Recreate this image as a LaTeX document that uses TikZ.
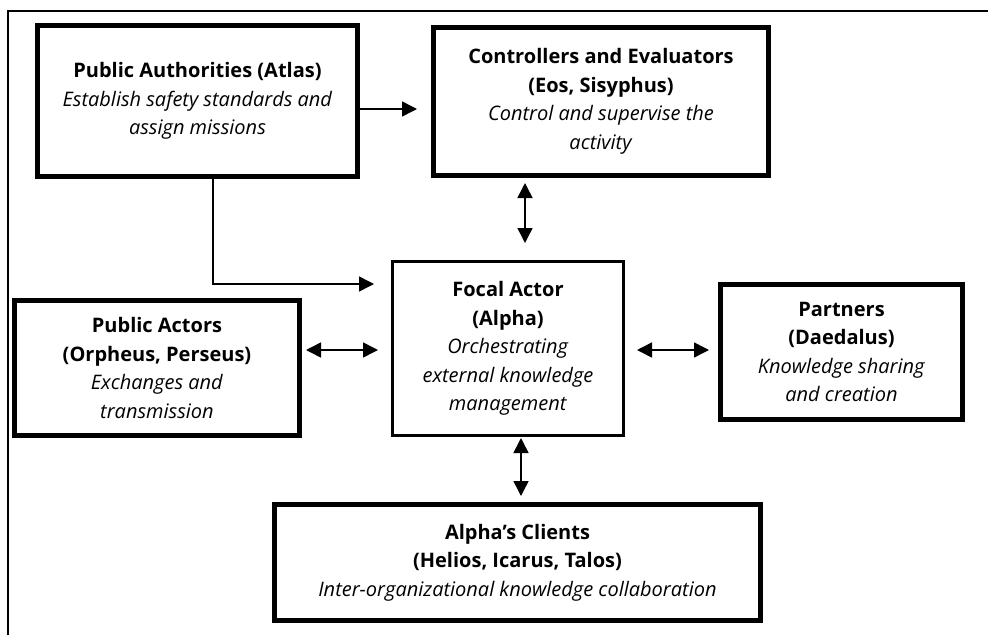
\documentclass[tikz,border=0pt]{standalone}
\usepackage{fontspec}
\setmainfont{Open Sans}
\usetikzlibrary{arrows.meta}

\begin{document}
\begin{tikzpicture}[x=1pt, y=-1pt,
    box/.style={draw, line width=5pt, align=center, inner sep=0pt, font=\fontsize{20}{28.5}\selectfont},
    thinbox/.style={box, line width=3pt},
    arr/.style={line width=1.5pt, -{Triangle[length=15pt, width=15pt]}},
    dbl/.style={line width=1.5pt, {Triangle[length=15pt, width=15pt]}-{Triangle[length=15pt, width=15pt]}}]
    \useasboundingbox (0, 0) rectangle (988, 635);
    \draw [line width=2pt] (8, 635) -- (8, 11) -- (988, 11); % frame
    % actors
    \node [box, minimum width=320pt, minimum height=151pt] (0) at (197.5, 101) {\textbf{Public Authorities (Atlas)}\\ \textit{Establish safety standards and}\\ \textit{assign missions}};
    \node [box, minimum width=335pt, minimum height=148pt] (1) at (601, 101.5) {\textbf{Controllers and Evaluators}\\ \textbf{(Eos, Sisyphus)}\\ \textit{Control and supervise the}\\ \textit{activity}};
    \node [thinbox, minimum width=231pt, minimum height=174pt] (2) at (508, 348.5) {\textbf{Focal Actor}\\ \textbf{(Alpha)}\\ \textit{Orchestrating}\\ \textit{external knowledge}\\ \textit{management}};
    \node [box, minimum width=285pt, minimum height=135pt] (3) at (157, 368) {\textbf{Public Actors}\\ \textbf{(Orpheus, Perseus)}\\ \textit{Exchanges and}\\ \textit{transmission}};
    \node [box, minimum width=242pt, minimum height=135pt] (4) at (841.5, 352) {\textbf{Partners}\\ \textbf{(Daedalus)}\\ \textit{Knowledge sharing}\\ \textit{and creation}};
    \node [box, minimum width=486pt, minimum height=116pt] (5) at (517.5, 562.5) {\textbf{Alpha’s Clients}\\ \textbf{(Helios, Icarus, Talos)}\\ \textit{Inter-organizational knowledge collaboration}};
    % links
    \draw [arr, shorten >=14pt] ([yshift=-8pt]0.east) to ([yshift=-8pt]0.east -| 1.west);
    \draw [arr, shorten >=17pt] ([xshift=15.5pt]0.south) |- ([yshift=64.5pt]2.west);
    \draw [dbl, shorten <=5pt, shorten >=17pt] ([xshift=-76pt]1.south) to ([xshift=17pt]2.north);
    \draw [dbl, shorten <=4pt, shorten >=13pt] ([yshift=18pt]3.east) to ([yshift=18pt]3.east -| 2.west);
    \draw [dbl, shorten <=12pt, shorten >=9pt] ([yshift=-1.5pt]2.east) to ([yshift=-1.5pt]2.east -| 4.west);
    \draw [dbl, shorten <=1pt, shorten >=6pt] ([xshift=13pt]2.south) to ([xshift=13pt]2.south |- 5.north);
\end{tikzpicture}
\end{document}
